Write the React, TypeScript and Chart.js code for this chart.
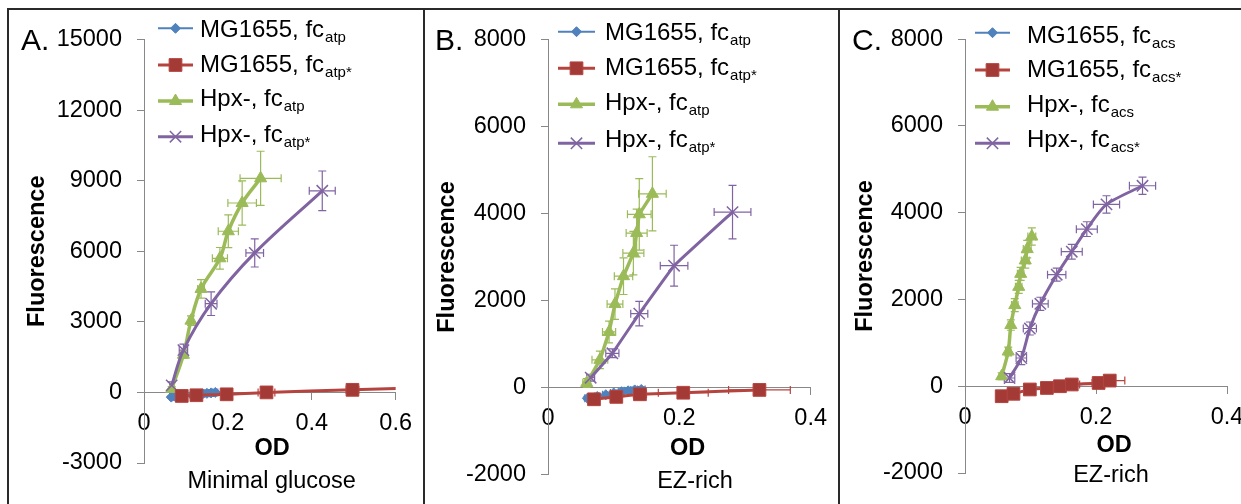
import React, { useEffect, useRef } from "react";
import { Chart, registerables } from "chart.js";
import { drawPoint } from "chart.js/helpers";

Chart.register(...registerables);

const FONT = "'Liberation Sans', Arial, Helvetica, sans-serif";
const BLUE = "#4F81BD";
const RED = "#B5443F";
const RED_FILL = "#A33A36";
const GREEN = "#9BBB59";
const PURPLE = "#8064A2";

// ---------- Panel A : Minimal glucose ----------
const A_X_TICKS = [0, 0.2, 0.4, 0.6];
const A_Y_TICKS = [-3000, 0, 3000, 6000, 9000, 12000, 15000];
const A_BLUE_OD = [0.065, 0.075, 0.115, 0.13, 0.14, 0.15, 0.16, 0.17];
const A_BLUE_F = [-200, -180, -120, -90, -60, -40, -20, 0];
const A_BLUE_XE = [0.004, 0.004, 0.005, 0.005, 0.005, 0.006, 0.006, 0.006];
const A_BLUE_YE = [40, 40, 50, 50, 50, 60, 60, 60];
const A_RED_OD = [0.09, 0.125, 0.197, 0.292, 0.497, 0.75];
const A_RED_F = [-150, -120, -80, 0, 110, 250];
const A_RED_XE = [0.005, 0.008, 0.01, 0.02, 0.015, 0.02];
const A_RED_YE = [30, 30, 40, 60, 80, 80];
const A_GREEN_OD = [0.066, 0.094, 0.112, 0.136, 0.181, 0.201, 0.234, 0.278];
const A_GREEN_F = [150, 1600, 3050, 4400, 5700, 6850, 8050, 9100];
const A_GREEN_XE = [0.004, 0.005, 0.006, 0.008, 0.018, 0.024, 0.034, 0.049];
const A_GREEN_YE = [100, 150, 200, 390, 460, 700, 940, 1150];
const A_PURPLE_OD = [0.066, 0.094, 0.16, 0.264, 0.425];
const A_PURPLE_F = [300, 1800, 3770, 5930, 8570];
const A_PURPLE_XE = [0.005, 0.01, 0.014, 0.021, 0.031];
const A_PURPLE_YE = [150, 250, 500, 600, 840];

// ---------- Panel B : EZ-rich (atp) ----------
const B_X_TICKS = [0, 0.2, 0.4];
const B_Y_TICKS = [-2000, 0, 2000, 4000, 6000, 8000];
const B_BLUE_OD = [0.06, 0.075, 0.088, 0.1, 0.112, 0.122, 0.132, 0.142];
const B_BLUE_F = [-240, -200, -160, -120, -90, -70, -50, -40];
const B_BLUE_XE = [0.004, 0.004, 0.005, 0.005, 0.005, 0.006, 0.006, 0.006];
const B_BLUE_YE = [40, 40, 50, 50, 50, 60, 60, 60];
const B_RED_OD = [0.07, 0.104, 0.14, 0.206, 0.322];
const B_RED_F = [-265, -210, -150, -115, -50];
const B_RED_XE = [0.005, 0.008, 0.01, 0.038, 0.047];
const B_RED_YE = [40, 40, 50, 60, 60];
const B_GREEN_OD = [0.059, 0.079, 0.093, 0.102, 0.115, 0.13, 0.135, 0.139, 0.159];
const B_GREEN_F = [110, 640, 1280, 1920, 2560, 3090, 3550, 3980, 4450];
const B_GREEN_XE = [0.006, 0.012, 0.01, 0.012, 0.014, 0.016, 0.016, 0.018, 0.021];
const B_GREEN_YE = [100, 200, 250, 350, 420, 500, 550, 820, 850];
const B_PURPLE_OD = [0.065, 0.098, 0.139, 0.192, 0.281];
const B_PURPLE_F = [230, 790, 1700, 2800, 4030];
const B_PURPLE_XE = [0.006, 0.01, 0.013, 0.021, 0.028];
const B_PURPLE_YE = [80, 100, 280, 470, 615];

// ---------- Panel C : EZ-rich (acs) ----------
const C_X_TICKS = [0, 0.2, 0.4];
const C_Y_TICKS = [-2000, 0, 2000, 4000, 6000, 8000];
const C_BLUE_OD = [0.056, 0.074, 0.099, 0.125, 0.145, 0.163, 0.204, 0.221];
const C_BLUE_F = [-220, -170, -80, -40, 0, 30, 70, 120];
const C_BLUE_XE = [0.004, 0.004, 0.005, 0.005, 0.006, 0.006, 0.006, 0.008];
const C_BLUE_YE = [40, 40, 50, 50, 50, 60, 60, 60];
const C_RED_OD = [0.056, 0.074, 0.099, 0.125, 0.145, 0.163, 0.204, 0.221];
const C_RED_F = [-230, -175, -75, -40, 0, 40, 75, 130];
const C_RED_XE = [0.005, 0.006, 0.007, 0.008, 0.01, 0.012, 0.01, 0.023];
const C_RED_YE = [50, 50, 50, 60, 60, 60, 70, 80];
const C_GREEN_OD = [0.056, 0.066, 0.07, 0.076, 0.082, 0.085, 0.092, 0.095, 0.102];
const C_GREEN_F = [230, 800, 1410, 1870, 2290, 2590, 2900, 3160, 3450];
const C_GREEN_XE = [0.004, 0.004, 0.004, 0.005, 0.005, 0.005, 0.006, 0.006, 0.006];
const C_GREEN_YE = [80, 100, 120, 150, 150, 150, 180, 200, 200];
const C_PURPLE_OD = [0.068, 0.086, 0.099, 0.115, 0.14, 0.163, 0.186, 0.216, 0.271];
const C_PURPLE_F = [190, 650, 1330, 1900, 2570, 3100, 3620, 4190, 4620];
const C_PURPLE_XE = [0.008, 0.008, 0.01, 0.012, 0.014, 0.016, 0.016, 0.02, 0.02];
const C_PURPLE_YE = [100, 150, 150, 150, 150, 170, 170, 200, 200];

const ATP_NAMES = [["MG1655, fc", "atp"], ["MG1655, fc", "atp*"], ["Hpx-, fc", "atp"], ["Hpx-, fc", "atp*"]];
const ACS_NAMES = [["MG1655, fc", "acs"], ["MG1655, fc", "acs*"], ["Hpx-, fc", "acs"], ["Hpx-, fc", "acs*"]];

const STYLES = [
  { color: BLUE, pointStyle: "rectRot", radius: 5, lineWidth: 2, fill: BLUE, pbw: 1, order: 3 },
  { color: RED, pointStyle: "rect", radius: 9, lineWidth: 3, fill: RED_FILL, pbw: 1, order: 0 },
  { color: GREEN, pointStyle: "triangle", radius: 7, lineWidth: 3.5, fill: GREEN, pbw: 1, order: 2 },
  { color: PURPLE, pointStyle: "crossRot", radius: 8, lineWidth: 3, fill: "rgba(0,0,0,0)", pbw: 1.5, order: 1 },
];

type Series = { od: number[]; f: number[]; xe: number[]; ye: number[] };

const PANELS = [
  {
    key: "A",
    left: 10, top: 10, w: 412, clipW: 412, h: 494,
    pad: { left: 8.6, top: 29.5, right: 26, bottom: 41 },
    yWidth: 125.4,
    xMax: 0.6, xTicks: A_X_TICKS, yMin: -3000, yMax: 15000, yTicks: A_Y_TICKS,
    tension: 0.35,
    names: ATP_NAMES,
    series: [
      { od: A_BLUE_OD, f: A_BLUE_F, xe: A_BLUE_XE, ye: A_BLUE_YE },
      { od: A_RED_OD, f: A_RED_F, xe: A_RED_XE, ye: A_RED_YE },
      { od: A_GREEN_OD, f: A_GREEN_F, xe: A_GREEN_XE, ye: A_GREEN_YE },
      { od: A_PURPLE_OD, f: A_PURPLE_F, xe: A_PURPLE_XE, ye: A_PURPLE_YE },
    ] as Series[],
    legend: { x0: 158, x1: 193, tx: 200, rows: [28.3, 65, 101, 136.7], bases: [37.3, 71.7, 106, 141.7] },
    texts: [
      { t: "A.", x: 21, y: 50, size: 30, bold: false, align: "left" },
      { t: "OD", x: 272, y: 455, size: 23.5, bold: true, align: "center" },
      { t: "Minimal glucose", x: 271.7, y: 487.5, size: 23.5, bold: false, align: "center" },
    ],
  },
  {
    key: "B",
    left: 425, top: 10, w: 412, clipW: 412, h: 494,
    pad: { left: 3.6, top: 26, right: 26, bottom: 26 },
    yWidth: 119.4,
    xMax: 0.4, xTicks: B_X_TICKS, yMin: -2000, yMax: 8000, yTicks: B_Y_TICKS,
    tension: 0.05,
    names: ATP_NAMES,
    series: [
      { od: B_BLUE_OD, f: B_BLUE_F, xe: B_BLUE_XE, ye: B_BLUE_YE },
      { od: B_RED_OD, f: B_RED_F, xe: B_RED_XE, ye: B_RED_YE },
      { od: B_GREEN_OD, f: B_GREEN_F, xe: B_GREEN_XE, ye: B_GREEN_YE },
      { od: B_PURPLE_OD, f: B_PURPLE_F, xe: B_PURPLE_XE, ye: B_PURPLE_YE },
    ] as Series[],
    legend: { x0: 558, x1: 595, tx: 605, rows: [31.7, 68.3, 104.3, 143.3], bases: [40, 75, 110, 146.7] },
    texts: [
      { t: "B.", x: 435, y: 50, size: 30, bold: false, align: "left" },
      { t: "OD", x: 687.5, y: 455, size: 23.5, bold: true, align: "center" },
      { t: "EZ-rich", x: 695, y: 487.5, size: 23.5, bold: false, align: "center" },
    ],
  },
  {
    key: "C",
    left: 840, top: 10, w: 420, clipW: 401, h: 494,
    pad: { left: 6.9, top: 23.3, right: 33, bottom: 31 },
    yWidth: 118.1,
    xMax: 0.4, xTicks: C_X_TICKS, yMin: -2000, yMax: 8000, yTicks: C_Y_TICKS,
    tension: 0.25,
    names: ACS_NAMES,
    series: [
      { od: C_BLUE_OD, f: C_BLUE_F, xe: C_BLUE_XE, ye: C_BLUE_YE },
      { od: C_RED_OD, f: C_RED_F, xe: C_RED_XE, ye: C_RED_YE },
      { od: C_GREEN_OD, f: C_GREEN_F, xe: C_GREEN_XE, ye: C_GREEN_YE },
      { od: C_PURPLE_OD, f: C_PURPLE_F, xe: C_PURPLE_XE, ye: C_PURPLE_YE },
    ] as Series[],
    legend: { x0: 975, x1: 1010, tx: 1027, rows: [32.7, 70, 106.7, 143.3], bases: [43.3, 76.7, 111.7, 146.7] },
    texts: [
      { t: "C.", x: 852, y: 50, size: 30, bold: false, align: "left" },
      { t: "OD", x: 1114, y: 451.7, size: 23.5, bold: true, align: "center" },
      { t: "EZ-rich", x: 1111, y: 481.7, size: 23.5, bold: false, align: "center" },
    ],
  },
];

const errorBarPlugin = {
  id: "errorBars",
  beforeDatasetsDraw(chart: any) {
    const { ctx, chartArea, scales } = chart;
    const xs = scales.x;
    const ys = scales.y;
    ctx.save();
    ctx.beginPath();
    ctx.rect(chartArea.left, chartArea.top, chartArea.right - chartArea.left, chartArea.bottom - chartArea.top);
    ctx.clip();
    chart.data.datasets.forEach((ds: any) => {
      const xe = ds.xErr as number[];
      const ye = ds.yErr as number[];
      if (!xe) return;
      ctx.strokeStyle = ds.borderColor;
      ctx.lineWidth = 1.2;
      const cap = 4;
      ds.data.forEach((p: any, i: number) => {
        const px = xs.getPixelForValue(p.x);
        const py = ys.getPixelForValue(p.y);
        const x0 = xs.getPixelForValue(p.x - xe[i]);
        const x1 = xs.getPixelForValue(p.x + xe[i]);
        const y0 = ys.getPixelForValue(p.y - ye[i]);
        const y1 = ys.getPixelForValue(p.y + ye[i]);
        ctx.beginPath();
        ctx.moveTo(x0, py); ctx.lineTo(x1, py);
        ctx.moveTo(x0, py - cap); ctx.lineTo(x0, py + cap);
        ctx.moveTo(x1, py - cap); ctx.lineTo(x1, py + cap);
        ctx.moveTo(px, y0); ctx.lineTo(px, y1);
        ctx.moveTo(px - cap, y0); ctx.lineTo(px + cap, y0);
        ctx.moveTo(px - cap, y1); ctx.lineTo(px + cap, y1);
        ctx.stroke();
      });
    });
    ctx.restore();
  },
};

function makeOverlayPlugin(cfg: any) {
  return {
    id: "overlay" + cfg.key,
    afterDraw(chart: any) {
      const ctx = chart.ctx as CanvasRenderingContext2D;
      const ox = cfg.left;
      const oy = cfg.top;
      ctx.save();
      ctx.textBaseline = "alphabetic";
      // legend
      const lg = cfg.legend;
      cfg.names.forEach((nm: string[], i: number) => {
        const st = STYLES[i];
        const y = lg.rows[i] - oy;
        ctx.strokeStyle = st.color;
        ctx.lineWidth = st.lineWidth;
        ctx.beginPath();
        ctx.moveTo(lg.x0 - ox, y);
        ctx.lineTo(lg.x1 - ox, y);
        ctx.stroke();
        ctx.fillStyle = st.fill;
        ctx.lineWidth = st.pbw;
        drawPoint(ctx, { pointStyle: st.pointStyle, rotation: 0, radius: st.radius, borderWidth: st.pbw } as any, (lg.x0 + lg.x1) / 2 - ox, y);
        ctx.fillStyle = "#000";
        ctx.textAlign = "left";
        ctx.font = `24px ${FONT}`;
        const base = lg.bases[i] - oy;
        ctx.fillText(nm[0], lg.tx - ox, base);
        const w = ctx.measureText(nm[0]).width;
        ctx.font = `15px ${FONT}`;
        ctx.fillText(nm[1], lg.tx - ox + w + 1, base + 5);
      });
      // free texts
      cfg.texts.forEach((t: any) => {
        ctx.font = `${t.bold ? "bold " : ""}${t.size}px ${FONT}`;
        ctx.textAlign = t.align;
        ctx.fillStyle = "#000";
        ctx.fillText(t.t, t.x - ox, t.y - oy);
      });
      ctx.restore();
    },
  };
}

function Panel({ cfg }: { cfg: any }) {
  const ref = useRef<HTMLCanvasElement>(null);
  useEffect(() => {
    const datasets = cfg.series.map((s: Series, i: number) => {
      const st = STYLES[i];
      return {
        label: cfg.names[i].join(""),
        data: s.od.map((x, j) => ({ x, y: s.f[j] })),
        xErr: s.xe,
        yErr: s.ye,
        showLine: true,
        borderColor: st.color,
        backgroundColor: st.fill,
        borderWidth: st.lineWidth,
        pointStyle: st.pointStyle,
        pointRadius: st.radius,
        pointBorderColor: st.color,
        pointBackgroundColor: st.fill,
        pointBorderWidth: st.pbw,
        tension: cfg.tension,
        order: st.order,
      };
    });
    const chart = new Chart(ref.current!, {
      type: "scatter",
      data: { datasets },
      plugins: [errorBarPlugin, makeOverlayPlugin(cfg)],
      options: {
        responsive: false,
        devicePixelRatio: 1,
        animation: false,
        events: [],
        layout: { padding: cfg.pad },
        plugins: { legend: { display: false }, tooltip: { enabled: false }, title: { display: false } },
        scales: {
          x: {
            type: "linear",
            position: { y: 0 } as any,
            min: 0,
            max: cfg.xMax,
            afterBuildTicks: (scale: any) => {
              scale.ticks = cfg.xTicks.map((v: number) => ({ value: v }));
            },
            ticks: {
              color: "#000",
              font: { family: FONT, size: 23.5 },
              padding: 10,
              maxRotation: 0,
              autoSkip: false,
              callback: (v: any) => String(v),
            },
            grid: { display: true, drawOnChartArea: false, drawTicks: true, tickLength: 7, color: "#888" },
            border: { display: true, color: "#888", width: 1 },
            title: { display: false },
          },
          y: {
            type: "linear",
            position: "left",
            min: cfg.yMin,
            max: cfg.yMax,
            afterBuildTicks: (scale: any) => {
              scale.ticks = cfg.yTicks.map((v: number) => ({ value: v }));
            },
            afterFit: (scale: any) => {
              scale.width = cfg.yWidth;
            },
            ticks: {
              color: "#000",
              font: { family: FONT, size: 23.5 },
              padding: 15,
              autoSkip: false,
              callback: (v: any) => String(v),
            },
            grid: { display: true, drawOnChartArea: false, drawTicks: true, tickLength: 7, color: "#888" },
            border: { display: true, color: "#888", width: 1 },
            title: {
              display: true,
              text: "Fluorescence",
              color: "#000",
              font: { family: FONT, size: 23.5, weight: "bold" },
              padding: { top: 5, bottom: 4 },
            },
          },
        },
      } as any,
    });
    return () => chart.destroy();
  }, []);
  return (
    <div style={{ position: "absolute", left: cfg.left, top: cfg.top, width: cfg.clipW, height: cfg.h, overflow: "hidden" }}>
      <canvas ref={ref} width={cfg.w} height={cfg.h} style={{ display: "block", width: cfg.w, height: cfg.h }} />
    </div>
  );
}

export default function App() {
  const line = (l: number, t: number, w: number, h: number) => (
    <div style={{ position: "absolute", left: l, top: t, width: w, height: h, background: "#2a2a2a" }} />
  );
  return (
    <div style={{ position: "absolute", left: 0, top: 0, width: 1241, height: 504, overflow: "hidden", background: "#fff" }}>
      {PANELS.map((p) => (
        <Panel key={p.key} cfg={p} />
      ))}
      {line(7, 8, 1234, 2)}
      {line(7, 8, 2, 496)}
      {line(423, 8, 2, 496)}
      {line(838, 8, 2, 496)}
    </div>
  );
}
